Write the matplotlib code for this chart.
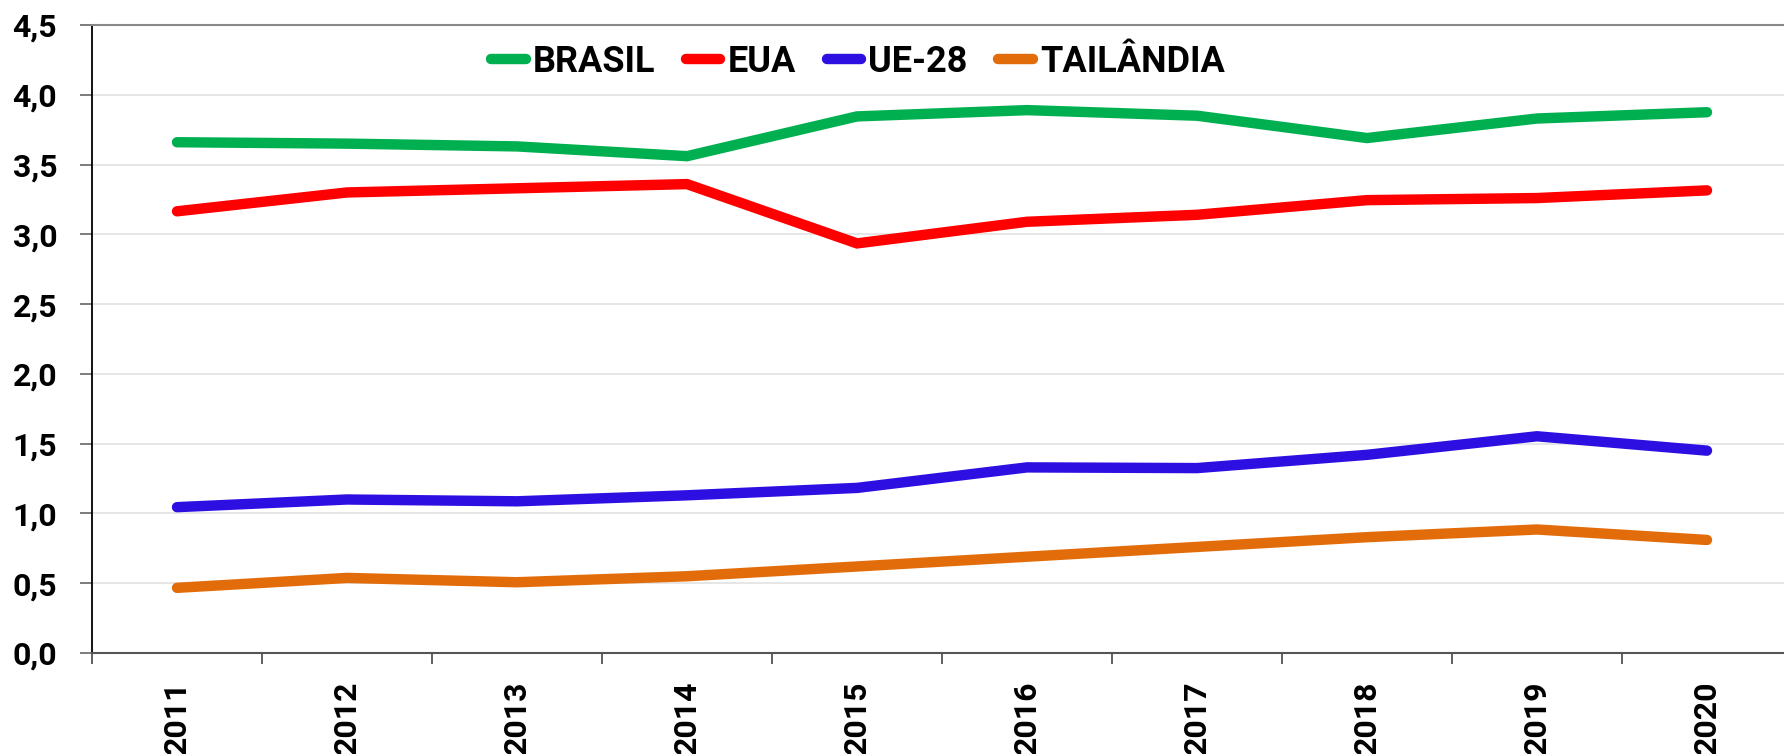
import matplotlib.pyplot as plt

plt.rcParams['font.family'] = ['Roboto', 'DejaVu Sans']

anos = ['2011', '2012', '2013', '2014', '2015', '2016', '2017', '2018', '2019', '2020']
brasil = [3.66, 3.65, 3.63, 3.56, 3.845, 3.89, 3.85, 3.69, 3.83, 3.875]
eua = [3.165, 3.30, 3.33, 3.36, 2.935, 3.09, 3.14, 3.245, 3.26, 3.315]
ue28 = [1.045, 1.10, 1.087, 1.13, 1.183, 1.33, 1.325, 1.42, 1.553, 1.45]
tailandia = [0.467, 0.538, 0.507, 0.55, 0.62, 0.69, 0.76, 0.83, 0.885, 0.81]

series = [
    ('BRASIL', brasil, '#00B050'),
    ('EUA', eua, '#FF0000'),
    ('UE-28', ue28, '#2D0FE2'),
    ('TAILÂNDIA', tailandia, '#E36C0A'),
]

fig = plt.figure(figsize=(17.84, 7.54), dpi=100)
# the plot area runs slightly past the right edge of the picture, as in the original
ax = fig.add_axes([92 / 1784, 1 - 653 / 754, 1700 / 1784, 628 / 754])

x = list(range(len(anos)))
for nome, vals, cor in series:
    ax.plot(x, vals, color=cor, lw=7.5, solid_capstyle='round',
            solid_joinstyle='miter', label=nome, zorder=3)

ax.set_xlim(-0.5, len(anos) - 0.5)
ax.set_ylim(0, 4.5)
ax.set_yticks([i * 0.5 for i in range(10)])
ax.set_yticklabels([f'{i * 0.5:.1f}'.replace('.', ',') for i in range(10)],
                   fontsize=23, fontweight='bold')
ax.set_xticks(x)
ax.set_xticklabels(anos, rotation=90, fontsize=23, fontweight='bold')
ax.set_xticks([i - 0.5 for i in range(len(anos) + 1)], minor=True)

ax.tick_params(axis='y', length=9, width=1.2, color='#666666', pad=16)
ax.tick_params(axis='x', which='major', length=0, pad=20)
ax.tick_params(axis='x', which='minor', length=8, width=1.2, color='#444444')

ax.grid(axis='y', color='#e2e2e2', lw=1.2, zorder=0)
ax.spines['right'].set_visible(False)
ax.spines['top'].set_color('#888888')
ax.spines['top'].set_linewidth(1.5)
ax.spines['left'].set_color('black')
ax.spines['left'].set_linewidth(1.3)
ax.spines['bottom'].set_color('#555555')
ax.spines['bottom'].set_linewidth(1.5)

leg = ax.legend(loc='center', bbox_to_anchor=(0.481, 0.918), bbox_transform=fig.transFigure,
                ncol=4, frameon=False, handlelength=0.95, handletextpad=0.2,
                columnspacing=0.85, prop={'size': 26, 'weight': 'bold'})

fig.savefig('out.png', dpi=100, facecolor='white')
